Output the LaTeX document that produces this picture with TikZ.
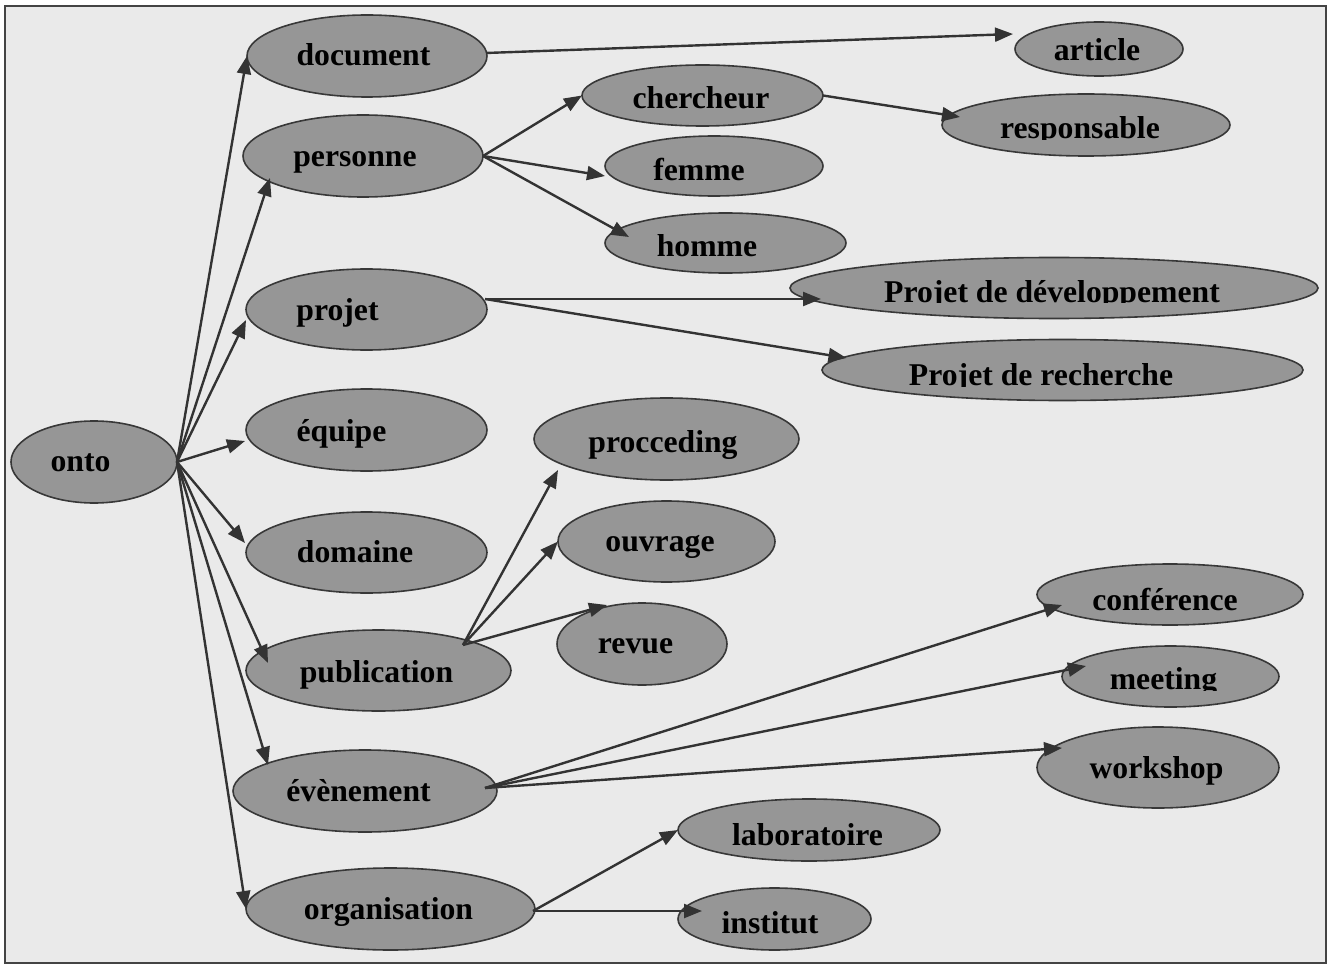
\documentclass[tikz,border=0pt]{standalone}
\usepackage{fontspec}
\setmainfont{Liberation Serif}
\usetikzlibrary{arrows.meta,shapes.geometric}

\definecolor{paper}{HTML}{EAEAEA}
\definecolor{blob}{HTML}{969696}
\definecolor{ink}{HTML}{333333}
\definecolor{rim}{HTML}{383838}
\definecolor{framec}{HTML}{444444}

\tikzset{
  concept/.style={ellipse, draw=rim, line width=1.6pt, fill=blob, inner sep=0pt, outer sep=0pt},
  word/.style={font=\fontsize{31.7}{36}\selectfont\bfseries, inner sep=0pt, anchor=base, text=black},
  link/.style={draw=ink, line width=2.4pt, -{Triangle[length=18pt,width=14pt]}},
}

\begin{document}
\begin{tikzpicture}[x=1pt,y=-1pt]
\useasboundingbox (0,0) rectangle (1333,968);
\fill[white] (0,0) rectangle (1333,968);
\draw[fill=paper, draw=framec, line width=2pt] (5,6) rectangle (1326,963);

% ---- concepts ----
\node[concept, minimum width=166pt, minimum height=82pt] (onto) at (94,462) {};
\node[concept, minimum width=240pt, minimum height=82pt] (document) at (367,56) {};
\node[concept, minimum width=240pt, minimum height=82pt] (personne) at (363,156) {};
\node[concept, minimum width=241pt, minimum height=81pt] (projet) at (366.5,309.5) {};
\node[concept, minimum width=241pt, minimum height=82pt] (equipe) at (366.5,430) {};
\node[concept, minimum width=241pt, minimum height=81pt] (domaine) at (366.5,552.5) {};
\node[concept, minimum width=265pt, minimum height=81pt] (publication) at (378.5,670.5) {};
\node[concept, minimum width=264pt, minimum height=82pt] (evenement) at (365,791) {};
\node[concept, minimum width=289pt, minimum height=82pt] (organisation) at (390.5,909) {};

\node[concept, minimum width=168pt, minimum height=54pt] (article) at (1099,49) {};
\node[concept, minimum width=241pt, minimum height=61pt] (chercheur) at (702.5,95.5) {};
\node[concept, minimum width=288pt, minimum height=62pt] (responsable) at (1086,125) {};
\node[concept, minimum width=218pt, minimum height=60pt] (femme) at (714,166) {};
\node[concept, minimum width=241pt, minimum height=60pt] (homme) at (725.5,243) {};
\node[concept, minimum width=528pt, minimum height=61pt] (pdev) at (1054,288) {};
\node[concept, minimum width=481pt, minimum height=61pt] (prech) at (1062.5,370) {};
\node[concept, minimum width=265pt, minimum height=82pt] (procceding) at (666.5,439) {};
\node[concept, minimum width=217pt, minimum height=81pt] (ouvrage) at (666.5,541.5) {};
\node[concept, minimum width=170pt, minimum height=82pt] (revue) at (642,644) {};
\node[concept, minimum width=266pt, minimum height=61pt] (conference) at (1170,594.5) {};
\node[concept, minimum width=217pt, minimum height=61pt] (meeting) at (1170.5,676.5) {};
\node[concept, minimum width=242pt, minimum height=81pt] (workshop) at (1158,767.5) {};
\node[concept, minimum width=262pt, minimum height=62pt] (laboratoire) at (809,830) {};
\node[concept, minimum width=193pt, minimum height=62pt] (institut) at (774.5,919) {};

% ---- links from the root ----
\draw[link] (onto.east) -- (document.west);
\draw[link] (onto.east) -- ([shift={(-93,22)}]personne.center);
\draw[link] (onto.east) -- ([shift={(-120.5,10.5)}]projet.center);
\draw[link] (onto.east) -- ([shift={(-121.5,11)}]equipe.center);
\draw[link] (onto.east) -- ([shift={(-121.5,-9.5)}]domaine.center);
\draw[link] (onto.east) -- ([shift={(-110.5,-7.5)}]publication.center);
\draw[link] (onto.east) -- ([shift={(-97,-26)}]evenement.center);
\draw[link] (onto.east) -- (organisation.west);

% ---- second level links ----
\draw[link] ([shift={(119,-3)}]document.center) -- ([shift={(-86,-15)}]article.center);
\draw[link] (personne.east) -- (chercheur.west);
\draw[link] (personne.east) -- ([shift={(-109,10)}]femme.center);
\draw[link] (personne.east) -- ([shift={(-96.5,-6)}]homme.center);
\draw[link] (chercheur.east) -- ([shift={(-126,-8)}]responsable.center);
\draw[link] ([shift={(118.5,-10.5)}]projet.center) -- ([shift={(-233,11)}]pdev.center);
\draw[link] ([shift={(118.5,-10.5)}]projet.center) -- ([shift={(-216,-12)}]prech.center);
\coordinate (pubout) at ([shift={(84.5,-25.5)}]publication.center);
\draw[link] (pubout) -- ([shift={(-108.5,31)}]procceding.center);
\draw[link] (pubout) -- (ouvrage.west);
\draw[link] (pubout) -- ([shift={(-35,-39)}]revue.center);
\coordinate (evout) at ([shift={(120,-3)}]evenement.center);
\draw[link] (evout) -- ([shift={(-108,10.5)}]conference.center);
\draw[link] (evout) -- ([shift={(-84.5,-10.5)}]meeting.center);
\draw[link] (evout) -- ([shift={(-96,-19.5)}]workshop.center);
\draw[link] ([shift={(142.5,2)}]organisation.center) -- (laboratoire.west);
\draw[link] ([shift={(142.5,2)}]organisation.center) -- ([shift={(-72.5,-8)}]institut.center);

% ---- labels ----
\node[word] (onto-t) at (80.5,471) {onto};
\node[word] (document-t) at (363.5,66) {document};
\node[word] (personne-t) at (355,167) {personne};
\node[word] (projet-t) at (337.5,320) {projet};
\node[word] (equipe-t) at (341.5,441) {équipe};
\node[word] (domaine-t) at (355,562) {domaine};
\node[word] (publication-t) at (376.5,682) {publication};
\node[word] (evenement-t) at (358.5,801) {évènement};
\node[word] (organisation-t) at (388.5,919) {organisation};
\node[word] (article-t) at (1097,61) {article};
\node[word] (chercheur-t) at (701,109) {chercheur};
\node[word] (femme-t) at (699,181) {femme};
\node[word] (procceding-t) at (663,452) {procceding};
\node[word] (ouvrage-t) at (660,551) {ouvrage};
\node[word] (revue-t) at (635.5,653) {revue};
\node[word] (conference-t) at (1165,610) {conférence};
\node[word] (workshop-t) at (1156.5,778) {workshop};
\node[word] (laboratoire-t) at (807.5,845) {laboratoire};

% labels whose lower part is cut off
\begin{scope}
  \clip (900,90) rectangle (1260,140);
  \node[word] (responsable-t) at (1080,139) {responsable};
\end{scope}
\begin{scope}
  \clip (600,210) rectangle (860,258);
  \node[word] (homme-t) at (707,257) {homme};
\end{scope}
\begin{scope}
  \clip (800,260) rectangle (1300,303);
  \node[word] (pdev-t) at (1052,302) {Projet de développement};
\end{scope}
\begin{scope}
  \clip (820,340) rectangle (1300,386);
  \node[word] (prech-t) at (1041,385) {Projet de recherche};
\end{scope}
\begin{scope}
  \clip (1070,640) rectangle (1270,690);
  \node[word] (meeting-t) at (1163.5,689) {meeting};
\end{scope}
\begin{scope}
  \clip (690,890) rectangle (860,934);
  \node[word] (institut-t) at (770,933) {institut};
\end{scope}
\end{tikzpicture}
\end{document}
